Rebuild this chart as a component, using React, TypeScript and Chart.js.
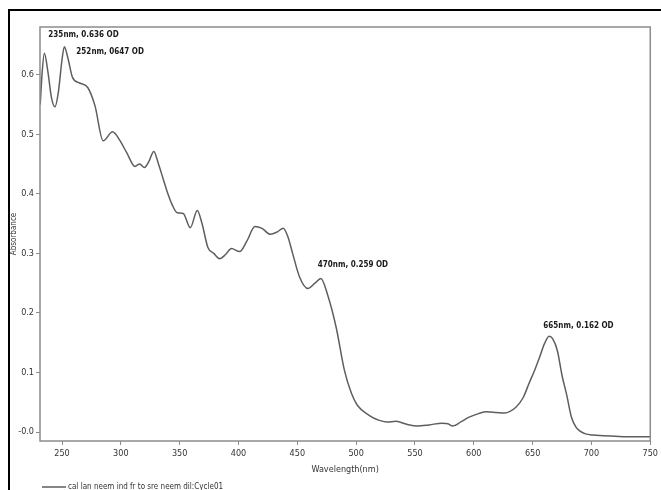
import React, { useEffect, useRef } from "react";
import { Chart, registerables } from "chart.js";

Chart.register(...registerables);

const wavelengths = [
  231.5, 233, 235, 238, 241, 244, 247, 250, 252, 255, 259, 265, 272, 278, 285, 293, 299, 305, 312, 316,
  320, 324, 328, 332, 336, 340, 344, 348, 353, 359, 365, 369, 374, 379, 384, 389, 394, 401, 407, 414,
  420, 427, 433, 438, 442, 446, 452, 459, 465, 470, 476, 483, 490, 496, 501, 511, 519, 526, 534, 543,
  552, 562, 573, 578, 582, 589, 596, 604, 611, 619, 626, 636, 642, 647, 652, 656, 660, 664, 667, 671,
  675, 679, 683, 687, 690, 695, 701, 710, 720, 730, 740, 750,
];
const absorbance = [
  0.55, 0.6, 0.636, 0.605, 0.562, 0.546, 0.572, 0.625, 0.647, 0.628, 0.595, 0.586, 0.578, 0.548, 0.489, 0.504, 0.49, 0.469, 0.446, 0.45,
  0.444, 0.455, 0.471, 0.45, 0.425, 0.4, 0.38, 0.368, 0.367, 0.343, 0.372, 0.35, 0.31, 0.3, 0.291, 0.298, 0.308, 0.303, 0.32, 0.345,
  0.342, 0.332, 0.336, 0.342, 0.328, 0.3, 0.26, 0.241, 0.25, 0.258, 0.229, 0.176, 0.104, 0.065, 0.045, 0.028, 0.02, 0.017, 0.018, 0.013,
  0.01, 0.012, 0.015, 0.014, 0.01, 0.017, 0.025, 0.031, 0.034, 0.033, 0.032, 0.042, 0.058, 0.082, 0.105, 0.126, 0.148, 0.161, 0.157, 0.137,
  0.095, 0.062, 0.025, 0.008, 0.002, -0.003, -0.005, -0.006, -0.007, -0.008, -0.008, -0.008,
];
const xTicks = [250, 300, 350, 400, 450, 500, 550, 600, 650, 700, 750];
const yTicks = [0, 0.1, 0.2, 0.3, 0.4, 0.5, 0.6];
const peakNm = [235, 252, 470, 665];
const peakOD = [0.636, 0.647, 0.259, 0.162];
const peakLabels = ["235nm, 0.636 OD", "252nm, 0647 OD", "470nm, 0.259 OD", "665nm, 0.162 OD"];
const labelDx = [4, 12, -3, -7];
const labelDy = [-18, 5, -13, -10];
const seriesName = "cal lan neem ind fr to sre neem dil:Cycle01";
const xTitle = "Wavelength(nm)";
const yTitle = "Absorbance";

const NARROW = "'Liberation Sans Narrow', 'DejaVu Sans Condensed', 'Arial Narrow', sans-serif";
const LINE = "#5e5e5e";
const FRAME = "#8c8c8c";

export default function App() {
  const ref = useRef<HTMLCanvasElement | null>(null);

  useEffect(() => {
    if (!ref.current) return;
    const frame = {
      id: "frame",
      afterDatasetsDraw(chart: any) {
        const { ctx, chartArea: a, scales } = chart;
        ctx.save();
        ctx.strokeStyle = FRAME;
        ctx.lineWidth = 1.5;
        ctx.strokeRect(a.left, a.top, a.right - a.left, a.bottom - a.top);
        // peak annotations
        ctx.fillStyle = "#1a1a1a";
        ctx.font = "bold 8px " + NARROW;
        ctx.textAlign = "left";
        ctx.textBaseline = "middle";
        peakLabels.forEach((t, i) => {
          const px = scales.x.getPixelForValue(peakNm[i]);
          const py = scales.y.getPixelForValue(peakOD[i]);
          ctx.fillText(t, px + labelDx[i], py + labelDy[i]);
        });
        // legend
        ctx.strokeStyle = LINE;
        ctx.lineWidth = 1.5;
        ctx.beginPath();
        ctx.moveTo(42, 487);
        ctx.lineTo(66, 487);
        ctx.stroke();
        ctx.fillStyle = "#333";
        ctx.font = "8px " + NARROW;
        ctx.fillText(seriesName, 68, 487);
        ctx.restore();
      },
    };

    const chart = new Chart(ref.current, {
      type: "line",
      data: {
        datasets: [
          {
            label: seriesName,
            data: wavelengths.map((w, i) => ({ x: w, y: absorbance[i] })),
            borderColor: LINE,
            borderWidth: 1.5,
            pointRadius: 0,
            cubicInterpolationMode: "monotone",
            fill: false,
          },
        ],
      },
      options: {
        responsive: false,
        animation: false,
        layout: { padding: { left: 0, top: 27, right: 10, bottom: 0 } },
        plugins: { legend: { display: false }, tooltip: { enabled: false } },
        scales: {
          x: {
            type: "linear",
            min: 231.3,
            max: 750,
            afterFit: (s: any) => {
              s.height = 49;
            },
            afterBuildTicks: (s: any) => {
              s.ticks = xTicks.map((v) => ({ value: v }));
            },
            border: { display: false },
            grid: { drawOnChartArea: false, drawTicks: true, tickLength: 4, color: FRAME },
            ticks: {
              color: "#333",
              font: { family: NARROW, size: 9 },
              padding: 3,
              maxRotation: 0,
              callback: (v: any) => String(v),
            },
            title: {
              display: true,
              text: xTitle,
              color: "#333",
              font: { family: NARROW, size: 9 },
              padding: { top: 0, bottom: 14.6 },
            },
          },
          y: {
            min: -0.015,
            max: 0.68,
            afterFit: (s: any) => {
              s.width = 40;
            },
            afterBuildTicks: (s: any) => {
              s.ticks = yTicks.map((v) => ({ value: v }));
            },
            border: { display: false },
            grid: { drawOnChartArea: false, drawTicks: true, tickLength: 4, color: FRAME },
            ticks: {
              color: "#333",
              font: { family: NARROW, size: 9 },
              padding: 2,
              callback: (v: any) => (Number(v) === 0 ? "-0.0" : Number(v).toFixed(1)),
            },
            title: {
              display: true,
              text: yTitle,
              color: "#333",
              font: { family: NARROW, size: 8 },
              padding: { top: 9.5, bottom: 0 },
            },
          },
        },
      },
      plugins: [frame],
    } as any);
    return () => chart.destroy();
  }, []);

  return (
    <div style={{ position: "fixed", left: 0, top: 0, width: 661, height: 490, background: "#fff", overflow: "hidden" }}>
      <canvas ref={ref} width={661} height={490} style={{ position: "absolute", left: 0, top: 0 }} />
      <div
        style={{
          position: "absolute",
          left: 8,
          top: 9,
          width: 660,
          height: 490,
          borderLeft: "2px solid #000",
          borderTop: "2px solid #000",
          pointerEvents: "none",
        }}
      />
    </div>
  );
}
